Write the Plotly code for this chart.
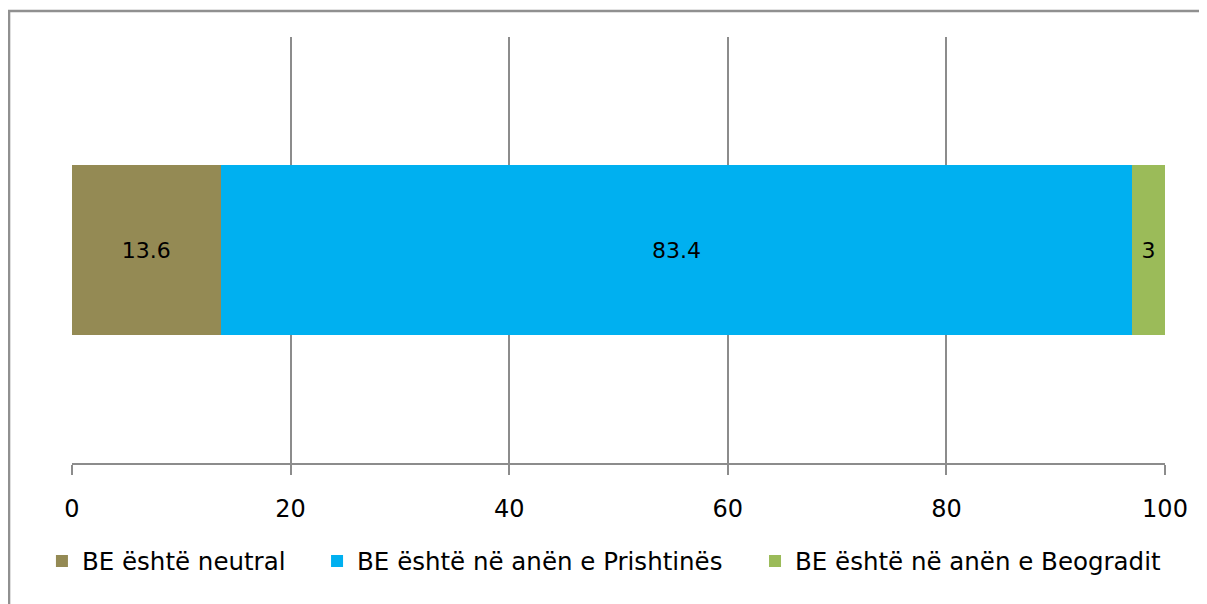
import plotly.graph_objects as go

categories = [""]
series_names = ["BE është neutral", "BE është në anën e Prishtinës", "BE është në anën e Beogradit"]
series_values = [[13.6], [83.4], [3]]
series_colors = ["#948A54", "#00B0F0", "#9BBB59"]
tick_values = [0, 20, 40, 60, 80, 100]

FONT = "DejaVu Sans"
legend_ids = ["legend", "legend2", "legend3"]
legend_x = [-0.0275, 0.2242, 0.6249]

fig = go.Figure()
for name, vals, col, lid in zip(series_names, series_values, series_colors, legend_ids):
    fig.add_trace(go.Bar(
        y=categories, x=vals, name=name, orientation="h",
        marker=dict(color=col, line=dict(width=0)),
        text=[str(v) for v in vals], textposition="inside",
        insidetextanchor="middle", textangle=0,
        textfont=dict(color="black", size=22, family=FONT),
        width=0.4, legend=lid,
    ))

legend_common = dict(orientation="h", xanchor="left", y=-0.230, yanchor="middle",
                     font=dict(size=24.5, family=FONT, color="black"), itemwidth=30,
                     bgcolor="rgba(0,0,0,0)")

fig.update_layout(
    barmode="stack",
    width=1207, height=604,
    margin=dict(l=64, r=50, t=29, b=149),
    paper_bgcolor="white", plot_bgcolor="white",
    font=dict(family=FONT, size=22, color="black"),
    uniformtext=dict(minsize=22, mode="show"),
    showlegend=True,
    legend=dict(x=legend_x[0], **legend_common),
    legend2=dict(x=legend_x[1], **legend_common),
    legend3=dict(x=legend_x[2], **legend_common),
    xaxis=dict(range=[0, 100], tickvals=tick_values, showgrid=True, gridcolor="#8C8C8C",
               gridwidth=1.5, showline=True, linecolor="#8C8C8C", linewidth=1.5,
               ticks="outside", ticklen=10, tickcolor="#8C8C8C", tickwidth=1.5,
               ticklabelstandoff=13,
               zeroline=False, tickfont=dict(size=24, family=FONT), fixedrange=True),
    yaxis=dict(range=[-0.5, 0.5], showticklabels=False, showgrid=False, zeroline=False,
               showline=False, ticks=""),
    shapes=[dict(type="rect", xref="paper", yref="paper",
                 x0=-0.0576, x1=1.2, y0=-0.6, y1=1.061,
                 line=dict(color="#909090", width=2.5), fillcolor="rgba(0,0,0,0)", layer="below")],
)

fig.write_html("out.html")
